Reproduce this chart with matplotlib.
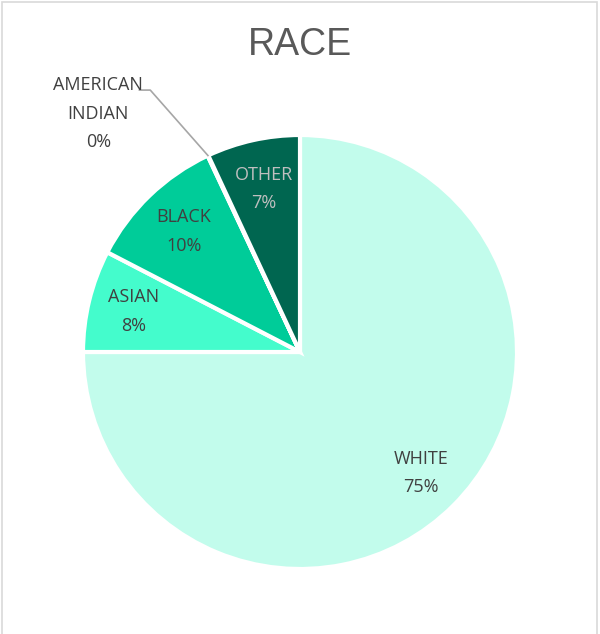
import matplotlib
matplotlib.use("Agg")
import matplotlib.pyplot as plt
import numpy as np

categories = ["WHITE", "ASIAN", "BLACK", "AMERICAN\nINDIAN", "OTHER"]
values = [75.0, 7.6, 10.4, 0.05, 6.95]
colors = ["#C2FCEC", "#44FCCC", "#00CC99", "#00CC99", "#006650"]
label_colors = ["#404040", "#404040", "#404040", "#404040", "#BFBFBF"]

W, H = 600, 634
fig = plt.figure(figsize=(W / 100, H / 100), dpi=100)
fig.patch.set_facecolor("white")

# light border
border = plt.Rectangle((2 / W, -0.01), (W - 5) / W, 1 - 2 / H + 0.01, transform=fig.transFigure,
                       fill=False, edgecolor="#D9D9D9", linewidth=1.2)
fig.patches.append(border)

cx, cy, r = 300, 352, 217
ax = fig.add_axes([(cx - r) / W, (H - cy - r) / H, 2 * r / W, 2 * r / H])

wedges, _ = ax.pie(values, colors=colors, startangle=90, counterclock=False, radius=1,
                   wedgeprops=dict(edgecolor="white", linewidth=3))
ax.set_xlim(-1, 1)
ax.set_ylim(-1, 1)
ax.axis("off")

total = sum(values)
font = "Open Sans"
fs = 13
ls = 1.75
for i, (w, cat, v) in enumerate(zip(wedges, categories, values)):
    pct = f"{round(v / total * 100):.0f}%"
    mid = np.deg2rad((w.theta1 + w.theta2) / 2)
    if i == 3:
        ex, ey = np.cos(mid) * 1.0, np.sin(mid) * 1.0
        ax.plot([ex, -0.69, -0.74], [ey, 1.207, 1.207], color="#A6A6A6",
                linewidth=1.2, clip_on=False)
        ax.text(-0.93, 1.097, cat + "\n" + pct, ha="center", va="center", fontsize=fs,
                color=label_colors[i], family=font, linespacing=ls, clip_on=False)
        continue
    d = 0.79 if i < 2 else 0.77
    ax.text(np.cos(mid) * d, np.sin(mid) * d, cat + "\n" + pct, ha="center", va="center",
            fontsize=fs, color=label_colors[i], family=font, linespacing=ls)

fig.text(0.5, 1 - 45 / H, "RACE", ha="center", va="center", fontsize=27, color="#595959",
         family="Liberation Sans")

fig.savefig("out.png", dpi=100)
